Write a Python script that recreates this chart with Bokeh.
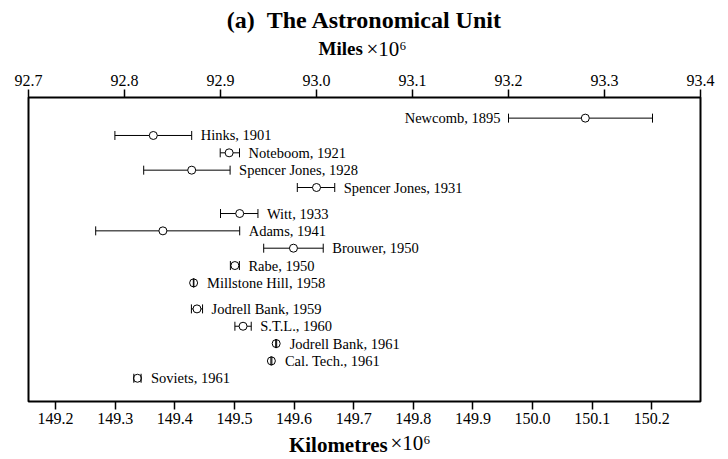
from bokeh.plotting import figure
from bokeh.models import (Range1d, LinearAxis, FixedTicker, ColumnDataSource,
                          Whisker, TeeHead)
from bokeh.core.properties import value
from bokeh.embed import file_html
from bokeh.resources import INLINE

# ---------------- data (miles x 10^6) ----------------
names = ["Newcomb, 1895", "Hinks, 1901", "Noteboom, 1921", "Spencer Jones, 1928",
         "Spencer Jones, 1931", "Witt, 1933", "Adams, 1941", "Brouwer, 1950",
         "Rabe, 1950", "Millstone Hill, 1958", "Jodrell Bank, 1959", "S.T.L., 1960",
         "Jodrell Bank, 1961", "Cal. Tech., 1961", "Soviets, 1961"]
values_mi = [93.28, 92.83, 92.909, 92.87, 93.00, 92.92, 92.84, 92.976,
             92.915, 92.872, 92.8755, 92.9235, 92.958, 92.953, 92.8135]
lower_mi = [93.20, 92.79, 92.8997, 92.82, 92.98, 92.90, 92.77, 92.945,
            92.9103, 92.8717, 92.8697, 92.915, 92.9575, 92.9525, 92.8097]
upper_mi = [93.35, 92.87, 92.9198, 92.91, 93.019, 92.939, 92.92, 93.007,
            92.9197, 92.8723, 92.8813, 92.932, 92.9585, 92.9535, 92.8173]
rows = [0, 1, 2, 3, 4, 5.5, 6.5, 7.5, 8.5, 9.5, 11, 12, 13, 14, 15]
labels_on_left = ["Newcomb, 1895"]

miles_ticks = [92.7, 92.8, 92.9, 93.0, 93.1, 93.2, 93.3, 93.4]
miles_tick_labels = ["92.7", "92.8", "92.9", "93.0", "93.1", "93.2", "93.3", "93.4"]
km_ticks = [149.2, 149.3, 149.4, 149.5, 149.6, 149.7, 149.8, 149.9, 150.0, 150.1, 150.2]
km_tick_labels = ["149.2", "149.3", "149.4", "149.5", "149.6", "149.7", "149.8",
                  "149.9", "150.0", "150.1", "150.2"]
miles_axis = (92.7, 93.4)
km_axis = (149.1547, 150.2817)

title_text = "(a)\u00a0\u00a0The Astronomical Unit"
top_label_word, unit_text = "Miles", "\u00d710\u2076"
bottom_label_word = "Kilometres"

# ---------------- layout constants ----------------
W, H = 720, 459
B_LEFT, B_RIGHT, B_TOP, B_BOTTOM = 28, 20, 97, 57
ROW_TOP, ROW_BOT = -1.19, 16.34
FONT = "Liberation Serif"
NBSP = "\u00a0"
TOP_UNIT_AT, BOTTOM_UNIT_AT = 93.073, 93.098   # where the "x10^6" parts sit

p = figure(width=W, height=H, output_backend="svg", toolbar_location=None,
           x_range=Range1d(*miles_axis), y_range=Range1d(ROW_BOT, ROW_TOP),
           x_axis_location=None, y_axis_location=None,
           min_border_left=B_LEFT, min_border_right=B_RIGHT,
           min_border_top=B_TOP, min_border_bottom=B_BOTTOM)
p.xgrid.visible = False
p.ygrid.visible = False
p.outline_line_color = "black"
p.outline_line_width = 2
p.background_fill_color = "white"
p.border_fill_color = "white"
p.extra_x_ranges = {"km": Range1d(*km_axis)}

p.title.text = title_text
p.title.align = "center"
p.title.text_font = FONT
p.title.text_font_size = "24px"
p.title.text_font_style = "bold"
p.title.text_color = "black"
p.title.standoff = 4


def style_axis(ax, standoff):
    ax.axis_line_color = None
    ax.major_tick_out = 8
    ax.major_tick_in = 0
    ax.major_tick_line_width = 1.5
    ax.minor_tick_line_color = None
    ax.major_label_text_font = FONT
    ax.major_label_text_font_size = "16px"
    ax.major_label_text_color = "black"
    ax.major_label_standoff = standoff


def unit_axis(at, word, word_size, standoff, label_standoff, **kw):
    ax = LinearAxis(ticker=FixedTicker(ticks=[at]),
                    major_label_overrides={at: unit_text}, **kw)
    ax.axis_line_color = None
    ax.major_tick_line_color = None
    ax.major_tick_out = 0
    ax.major_tick_in = 0
    ax.minor_tick_line_color = None
    ax.major_label_text_font = FONT
    ax.major_label_text_font_size = "21px"
    ax.major_label_text_color = "black"
    ax.major_label_standoff = standoff
    ax.axis_label = word + NBSP * 10
    ax.axis_label_text_font = FONT
    ax.axis_label_text_font_size = word_size
    ax.axis_label_text_font_style = "bold"
    ax.axis_label_text_color = "black"
    ax.axis_label_standoff = label_standoff
    return ax


top_ax = LinearAxis(ticker=FixedTicker(ticks=miles_ticks),
                    major_label_overrides=dict(zip(miles_ticks, miles_tick_labels)))
style_axis(top_ax, 4)
p.add_layout(top_ax, "above")
p.add_layout(unit_axis(TOP_UNIT_AT, top_label_word, "19px", 11, -25), "above")

bot_ax = LinearAxis(x_range_name="km", ticker=FixedTicker(ticks=km_ticks),
                    major_label_overrides=dict(zip(km_ticks, km_tick_labels)))
style_axis(bot_ax, 3)
p.add_layout(bot_ax, "below")
p.add_layout(unit_axis(BOTTOM_UNIT_AT, bottom_label_word, "21px", 4, -25), "below")

# ---------------- data glyphs ----------------
on_left = [n in labels_on_left for n in names]
r_mi = 4.5 * (miles_axis[1] - miles_axis[0]) / (W - B_LEFT - B_RIGHT)
label_x = [lo if left else max(up, v + r_mi)
           for lo, up, v, left in zip(lower_mi, upper_mi, values_mi, on_left)]
src = ColumnDataSource(dict(
    name=names, value=values_mi, lower=lower_mi, upper=upper_mi, row=rows,
    label_x=label_x,
    align=["right" if l else "left" for l in on_left],
    xoff=[-8 if l else 9 for l in on_left],
))

p.segment(x0="lower", y0="row", x1="upper", y1="row", source=src,
          line_color="black", line_width=1)
p.scatter(x="value", y="row", source=src, size=8, marker="circle",
          fill_color="white", line_color="black", line_width=1)
wh = Whisker(source=src, base="row", lower="lower", upper="upper",
             dimension="width", line_alpha=0, level="overlay",
             lower_head=TeeHead(size=9, line_width=1, line_color="black"),
             upper_head=TeeHead(size=9, line_width=1, line_color="black"))
p.add_layout(wh)
p.text(x="label_x", y="row", text="name", source=src, x_offset="xoff",
       text_align="align", text_baseline="middle", text_color="black",
       text_font=value(FONT), text_font_size="14.5px")

open("out.html", "w").write(file_html(p, INLINE))
